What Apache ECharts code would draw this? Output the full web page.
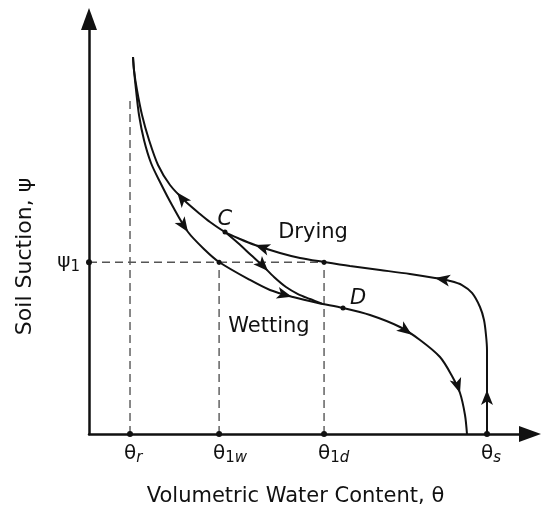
<!DOCTYPE html>
<html><head><meta charset="utf-8">
<script src="https://cdn.jsdelivr.net/npm/echarts@6/dist/echarts.min.js"></script>
<style>html,body{margin:0;padding:0;background:#fff}#c{width:541px;height:513px}</style>
</head><body><div id="c"></div>
<script>
// ---- characteristic values (axis units 0..100) ----
const thetaR = 9.3, theta1w = 29.5, theta1d = 53.3, thetaS = 90.25;
const psi1 = 41.4;
const pointC = [30.84, 48.67];
const pointD = [57.6, 30.36];
const thetaTickValues = [thetaR, theta1w, theta1d, thetaS];
const thetaTickSubs = ['r', '1w', '1d', 's'];
const residualGuideTop = 80.5;

// main drying curve (travelled from theta_s upward)
const dryingCurve = [[90.25,0],[90.25,13.01],[90.25,20.24],[90.02,23.86],[89.57,27.47],[88.66,30.60],[86.85,33.98],[84.58,35.90],[81.86,36.87],[78.46,37.59],[72.79,38.55],[65.99,39.52],[59.18,40.48],[53.29,41.45],[47.85,42.41],[43.31,43.61],[37.64,45.54],[34.24,46.99],[30.84,48.67],[27.44,51.08],[25.17,53.01],[21.77,56.14],[18.37,60.00],[15.65,64.82],[13.61,70.84],[12.02,76.87],[10.88,82.89],[10.20,87.71],[9.98,90.84]];
// main wetting curve (travelled from the top downward)
const wettingCurve = [[9.98,90.84],[10.20,87.71],[10.66,82.89],[11.34,76.87],[12.47,70.84],[14.06,65.30],[16.10,60.72],[18.82,55.18],[22.45,48.67],[26.30,44.34],[29.48,41.45],[36.51,37.11],[41.04,34.70],[46.26,33.01],[51.93,31.57],[57.60,30.36],[63.72,28.67],[70.52,25.78],[75.06,22.65],[79.59,18.55],[82.31,13.98],[84.13,9.88],[85.26,4.58],[85.71,0]];
// scanning wetting curve from C back to the main wetting curve
const scanningCurve = [[30.84,48.67],[33.79,46.02],[36.73,43.13],[39.46,40.48],[41.95,37.83],[44.67,35.42],[47.39,33.73],[50.11,32.53],[52.83,31.40]];
// arrowheads: [x, y, direction in degrees (counter-clockwise from +x)]
const dryingArrows = [[90.25,10.6,90],[78.46,37.59,170],[37.64,45.54,161],[20.0,58.2,128]];
const wettingArrows = [[22.45,48.67,-56],[46.0,33.1,-15],[73.2,23.9,-36],[84.13,9.88,-72]];
const scanningArrows = [[40.6,39.3,-46]];
// text annotations: [text, x, y, italic]
const annotations = [['C',30.8,51.6,true],['D',61.0,32.6,true],['Drying',50.8,48.6,false],['Wetting',40.8,25.8,false]];

const ink = '#111';
const font = 'DejaVu Sans';

function subFmt(s) {
  return s.split('').map(ch => /[0-9]/.test(ch) ? '{n|' + ch + '}' : '{i|' + ch + '}').join('');
}
const richSub = {
  t: {fontSize: 20, fontFamily: font, color: ink, lineHeight: 24},
  n: {fontSize: 15, fontFamily: font, color: ink, verticalAlign: 'bottom', lineHeight: 17},
  i: {fontSize: 15, fontFamily: font, color: ink, fontStyle: 'italic', verticalAlign: 'bottom', lineHeight: 17}
};

function curve(data) {
  return {type: 'line', data: data, symbol: 'none', smooth: 0.3, silent: true,
    lineStyle: {color: ink, width: 2}, z: 3};
}
function guide(data) {
  return {type: 'line', data: data, symbol: 'none', silent: true,
    lineStyle: {color: '#555', width: 1.4, type: [8, 5]}, z: 2};
}

const allArrows = dryingArrows.concat(wettingArrows, scanningArrows);

const chart = echarts.init(document.getElementById('c'), null, {renderer: 'canvas'});
chart.setOption({
  animation: false,
  backgroundColor: '#fff',
  textStyle: {fontFamily: font},
  grid: {left: 89, right: 11, top: 19, bottom: 79},
  xAxis: {
    type: 'value', min: 0, max: 100,
    axisLine: {show: true, onZero: false, lineStyle: {color: ink, width: 2.5},
      symbol: ['none', 'triangle'], symbolSize: [16, 22]},
    axisTick: {show: false}, axisLabel: {show: false}, splitLine: {show: false},
    name: 'Volumetric Water Content, θ', nameLocation: 'middle', nameGap: 52,
    nameTextStyle: {fontSize: 21, color: '#111', fontFamily: font, padding: [0, 28, 0, 0]}
  },
  yAxis: {
    type: 'value', min: 0, max: 100,
    axisLine: {show: true, onZero: false, lineStyle: {color: ink, width: 2.5},
      symbol: ['none', 'triangle'], symbolSize: [16, 22]},
    axisTick: {show: false}, axisLabel: {show: false}, splitLine: {show: false},
    name: 'Soil Suction, ψ', nameLocation: 'middle', nameGap: 53,
    nameTextStyle: {fontSize: 22, color: '#111', fontFamily: font, padding: [0, 60, 0, 0]}
  },
  series: [
    guide([[thetaR, 0], [thetaR, residualGuideTop]]),
    guide([[theta1w, 0], [theta1w, psi1]]),
    guide([[theta1d, 0], [theta1d, psi1]]),
    guide([[0, psi1], [theta1d, psi1]]),
    curve(dryingCurve),
    curve(wettingCurve),
    curve(scanningCurve),
    {
      type: 'scatter', silent: true, z: 6,
      data: allArrows.map(a => ({value: [a[0], a[1]], symbolRotate: a[2] - 90})),
      symbol: 'arrow', symbolSize: [9, 15], itemStyle: {color: ink, opacity: 1}
    },
    {
      type: 'scatter', silent: true, z: 7, symbolSize: 6, itemStyle: {color: ink, opacity: 1},
      data: thetaTickValues.map(v => [v, 0]),
      label: {show: true, position: 'bottom', distance: 5, align: 'left', offset: [-6, 0],
        fontSize: 20, color: ink,
        formatter: p => '{t|θ}' + subFmt(thetaTickSubs[p.dataIndex]), rich: richSub}
    },
    {
      type: 'scatter', silent: true, z: 7, symbolSize: 6, itemStyle: {color: ink, opacity: 1},
      data: [[0, psi1]],
      label: {show: true, position: 'left', distance: 6, fontSize: 20, color: ink,
        formatter: () => '{t|ψ}{n|1}', rich: richSub}
    },
    {
      type: 'scatter', silent: true, z: 7, symbolSize: 5, itemStyle: {color: ink, opacity: 1},
      data: [[theta1w, psi1], [theta1d, psi1], pointC, pointD]
    },
    {
      type: 'scatter', silent: true, z: 8, symbolSize: 0, itemStyle: {opacity: 1},
      data: annotations.map(a => ({value: [a[1], a[2]], name: a[0],
        label: {fontStyle: a[3] ? 'italic' : 'normal'}})),
      label: {show: true, position: 'inside', formatter: '{b}', fontSize: 21,
        fontFamily: font, color: ink}
    }
  ]
});
</script></body></html>
